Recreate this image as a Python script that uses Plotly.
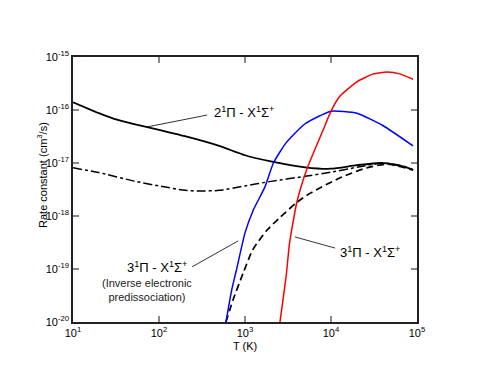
import plotly.graph_objects as go

# Temperature grids (K) and rate constants (cm^3/s)
T_2pi = [10, 20, 30, 50, 100, 200, 500, 1000, 2000, 5000, 10000, 20000, 40000, 70000, 90000]
k_2pi = [1.4e-16, 8.7e-17, 6.8e-17, 5.5e-17, 4.2e-17, 3.2e-17, 2.1e-17, 1.4e-17,
         1.07e-17, 8.3e-18, 7.8e-18, 9.1e-18, 1.0e-17, 8.5e-18, 7.4e-18]

T_dashdot = [10, 20, 50, 100, 200, 300, 500, 1000, 2000, 5000, 10000, 20000, 40000, 70000, 90000]
k_dashdot = [8.1e-18, 6.6e-18, 4.6e-18, 3.7e-18, 3.05e-18, 2.95e-18, 3.05e-18, 3.7e-18,
             4.5e-18, 5.6e-18, 6.7e-18, 8.3e-18, 1.0e-17, 8.7e-18, 7.4e-18]

T_blue = [600, 700, 800, 1000, 1250, 1700, 2140, 3000, 5000, 10000, 20000, 40000, 90000]
k_blue = [1.0e-20, 4.0e-20, 1.0e-19, 4.8e-19, 1.3e-18, 3.5e-18, 1.0e-17, 2.4e-17,
          5.5e-17, 9.5e-17, 8.7e-17, 5.1e-17, 2.1e-17]

T_red = [2550, 3000, 3300, 4000, 5200, 8100, 10000, 12600, 20000, 31000, 45000, 63000, 90000]
k_red = [1.0e-20, 7.0e-20, 3.1e-19, 1.8e-18, 7.4e-18, 4.2e-17, 9.5e-17, 1.8e-16,
         3.4e-16, 4.8e-16, 5.2e-16, 4.8e-16, 3.8e-16]

T_dash = [600, 725, 950, 1230, 1820, 2570, 4000, 5750, 12600, 26000, 45000, 90000]
k_dash = [1.0e-20, 2.6e-20, 8.3e-20, 2.3e-19, 5.5e-19, 9.5e-19, 1.8e-18, 2.7e-18,
          5.2e-18, 8.1e-18, 9.5e-18, 7.4e-18]

x_ticks = [10, 100, 1000, 10000, 100000]
x_ticktext = ['10<sup>1</sup>', '10<sup>2</sup>', '10<sup>3</sup>', '10<sup>4</sup>', '10<sup>5</sup>']
y_ticks = [1e-20, 1e-19, 1e-18, 1e-17, 1e-16, 1e-15]
y_ticktext = ['10<sup>-20</sup>', '10<sup>-19</sup>', '10<sup>-18</sup>',
              '10<sup>-17</sup>', '10<sup>-16</sup>', '10<sup>-15</sup>']

fig = go.Figure()

fig.add_trace(go.Scatter(x=T_2pi, y=k_2pi, mode='lines', line=dict(color='black', width=1.8, shape='spline', smoothing=0.6)))
fig.add_trace(go.Scatter(x=T_dashdot, y=k_dashdot, mode='lines', line=dict(color='black', width=1.5, dash='dashdot', shape='spline', smoothing=0.6)))
fig.add_trace(go.Scatter(x=T_dash, y=k_dash, mode='lines', line=dict(color='black', width=1.7, dash='7px,4px', shape='spline', smoothing=0.6)))
fig.add_trace(go.Scatter(x=T_blue, y=k_blue, mode='lines', line=dict(color='blue', width=1.5, shape='spline', smoothing=0.5)))
fig.add_trace(go.Scatter(x=T_red, y=k_red, mode='lines', line=dict(color='red', width=1.5, shape='spline', smoothing=0.5)))

axis_common = dict(
    type='log', showgrid=False, zeroline=False,
    showline=True, linecolor='#222', linewidth=1.5, mirror='ticks',
    ticks='inside', ticklen=6, tickwidth=1.5, tickcolor='#888',
    tickfont=dict(family='Liberation Sans, Arial', size=11, color='black'),
)
fig.update_xaxes(range=[1, 5], tickvals=x_ticks, ticktext=x_ticktext, **axis_common)
fig.update_yaxes(range=[-20, -15], tickvals=y_ticks, ticktext=y_ticktext, **axis_common)

# leader lines (paper coordinates)
leaders = [((0.215, 0.736), (0.390, 0.781)),
           ((0.346, 0.208), (0.480, 0.306)),
           ((0.645, 0.321), (0.762, 0.279))]
for (x0, y0), (x1, y1) in leaders:
    fig.add_shape(type='line', xref='paper', yref='paper', x0=x0, y0=y0, x1=x1, y1=y1,
                  line=dict(color='black', width=0.8))

lab = dict(family='Liberation Sans, Arial', size=13, color='black')
small = dict(family='Liberation Sans, Arial', size=11, color='#222')
fig.add_annotation(xref='paper', yref='paper', x=0.405, y=0.792, xanchor='left', yanchor='middle',
                   text='2<sup>1</sup>Π - X<sup>1</sup>Σ<sup>+</sup>', showarrow=False, font=lab)
fig.add_annotation(xref='paper', yref='paper', x=0.337, y=0.208, xanchor='right', yanchor='middle',
                   text='3<sup>1</sup>Π - X<sup>1</sup>Σ<sup>+</sup>', showarrow=False, font=lab)
fig.add_annotation(xref='paper', yref='paper', x=0.215, y=0.177, xanchor='center', yanchor='top',
                   text='(Inverse electronic<br>predissociation)', showarrow=False, font=small)
fig.add_annotation(xref='paper', yref='paper', x=0.771, y=0.264, xanchor='left', yanchor='middle',
                   text='3<sup>1</sup>Π - X<sup>1</sup>Σ<sup>+</sup>', showarrow=False, font=lab)

# axis titles
fig.add_annotation(xref='paper', yref='paper', x=-0.09, y=0.555, xanchor='center', yanchor='middle',
                   textangle=-90, text='Rate constant (cm<sup>3</sup>/s)', showarrow=False,
                   font=dict(family='Liberation Sans, Arial', size=11, color='black'))
fig.add_annotation(xref='paper', yref='paper', x=0.5, y=-0.09, xanchor='center', yanchor='middle',
                   text='T (K)', showarrow=False,
                   font=dict(family='Liberation Sans, Arial', size=11, color='black'))

# the page body adds an 8px offset, so margins are trimmed to keep the frame in place
fig.update_layout(
    width=483, height=371,
    margin=dict(l=65, r=74, t=49, b=57),
    paper_bgcolor='white', plot_bgcolor='white',
    showlegend=False,
)

fig.write_html("out.html")
